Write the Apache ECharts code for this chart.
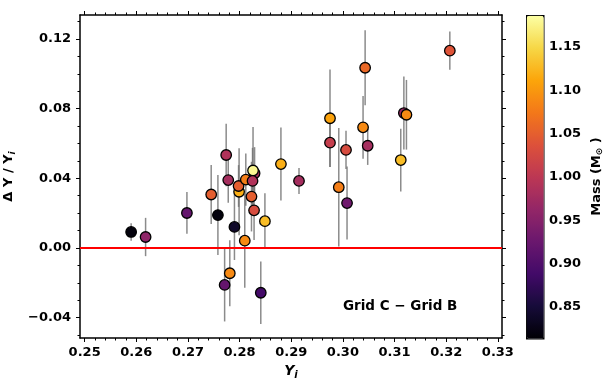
<!DOCTYPE html>
<html>
<head>
<meta charset="utf-8">
<script src="https://cdn.jsdelivr.net/npm/echarts@6/dist/echarts.min.js"></script>
<style>
  html, body { margin: 0; padding: 0; background: #fff; }
  #chart { width: 613px; height: 385px; }
</style>
</head>
<body>
<div id="chart"></div>
<script>
// Y_i, delta Y / Y_i, its error, and mass (colour)
var yi = [0.2590, 0.2618, 0.2698, 0.2745, 0.2758, 0.2774, 0.2778, 0.2771, 0.2781, 0.2790,
          0.2799, 0.2798, 0.2812, 0.2810, 0.2829, 0.2826, 0.2825, 0.2823, 0.2828, 0.2849,
          0.2841, 0.2880, 0.2915, 0.2975, 0.2975, 0.2992, 0.3006, 0.3008, 0.3043, 0.3039,
          0.3048, 0.3112, 0.3118, 0.3123, 0.3207];
var dY = [0.0092, 0.0063, 0.0201, 0.0307, 0.0189, 0.0534, 0.0390, -0.0212, -0.0145, 0.0121,
          0.0323, 0.0356, 0.0393, 0.0042, 0.0429, 0.0445, 0.0385, 0.0295, 0.0216, 0.0154,
          -0.0257, 0.0482, 0.0385, 0.0745, 0.0605, 0.0349, 0.0563, 0.0258, 0.1035, 0.0693,
          0.0587, 0.0505, 0.0775, 0.0765, 0.1133];
var dYerr = [0.005, 0.011, 0.012, 0.017, 0.023, 0.018, 0.013, 0.021, 0.019, 0.019,
             0.025, 0.012, 0.015, 0.027, 0.015, 0.025, 0.019, 0.020, 0.017, 0.016,
             0.018, 0.021, 0.0075, 0.028, 0.014, 0.034, 0.011, 0.021, 0.0215, 0.018,
             0.011, 0.018, 0.021, 0.020, 0.011];
var mass = [0.82, 0.96, 0.92, 1.05, 0.82, 0.99, 0.98, 0.92, 1.09, 0.84,
            1.12, 1.05, 1.08, 1.09, 0.98, 1.18, 0.99, 1.05, 1.03, 1.13,
            0.89, 1.12, 0.98, 1.11, 1.01, 1.08, 1.03, 0.93, 1.06, 1.09,
            0.98, 1.13, 0.97, 1.09, 1.04];

var xTicks = [0.25, 0.26, 0.27, 0.28, 0.29, 0.30, 0.31, 0.32, 0.33];
var yTicks = [-0.04, 0.00, 0.04, 0.08, 0.12];
var cbTicks = [0.85, 0.90, 0.95, 1.00, 1.05, 1.10, 1.15];

var xMin = 0.2491, xMax = 0.3308;
var yMin = -0.0517, yMax = 0.1338;
var mMin = 0.814, mMax = 1.187;

// minor ticks
var xMinor = [], yMinor = [];
for (var i = 0; i <= 45; i++) { var v = +(0.246 + i * 0.002).toFixed(3); if (v > xMin && v < xMax) xMinor.push(v); }
for (var j = 0; j <= 20; j++) { var w = +(-0.06 + j * 0.01).toFixed(2); if (w > yMin && w < yMax) yMinor.push(w); }

var inferno = ['#000004', '#160b39', '#420a68', '#6a176e', '#932667', '#bc3754',
               '#dd513a', '#f37819', '#fca50a', '#f6d746', '#fcffa4'];

var font = 'DejaVu Sans';
function fmt(d) { return function (v) { return v.toFixed(d).replace('-', '\u2212'); }; }

var points = yi.map(function (x, k) { return [x, dY[k], mass[k]]; });
var bars = yi.map(function (x, k) { return [x, dY[k], dYerr[k]]; });

function axisX(pos, major, labels) {
  return {
    type: 'value', gridIndex: 0, position: pos, min: xMin, max: xMax,
    splitLine: { show: false },
    axisLine: { show: major, onZero: false, lineStyle: { color: '#000', width: 1.5 } },
    axisTick: { show: true, inside: false, length: major ? 4 : 2.5, customValues: major ? xTicks : xMinor,
                lineStyle: { color: '#000', width: 1 } },
    axisLabel: { show: labels, customValues: xTicks, formatter: fmt(2), margin: 8,
                 fontFamily: font, fontWeight: 'bold', fontSize: 13, color: '#000' }
  };
}
function axisY(pos, major, labels) {
  return {
    type: 'value', gridIndex: 0, position: pos, min: yMin, max: yMax,
    splitLine: { show: false },
    axisLine: { show: major, onZero: false, lineStyle: { color: '#000', width: 1.5 } },
    axisTick: { show: true, inside: false, length: major ? 4 : 2.5, customValues: major ? yTicks : yMinor,
                lineStyle: { color: '#000', width: 1 } },
    axisLabel: { show: labels, customValues: yTicks, formatter: fmt(2), margin: 9,
                 fontFamily: font, fontWeight: 'bold', fontSize: 13, color: '#000' }
  };
}

var xAxes = [axisX('bottom', true, true), axisX('bottom', false, false),
             axisX('top', true, false), axisX('top', false, false)];
xAxes[0].name = '{a|Y}{s|i}';
xAxes[0].nameLocation = 'middle';
xAxes[0].nameGap = 24;
xAxes[0].nameTextStyle = { rich: {
  a: { fontFamily: font, fontWeight: 'bold', fontStyle: 'italic', fontSize: 14, color: '#000' },
  s: { fontFamily: font, fontWeight: 'bold', fontStyle: 'italic', fontSize: 10, color: '#000', verticalAlign: 'bottom', padding: [8, 0, 0, 0] }
} };
xAxes.push({ type: 'value', gridIndex: 1, show: false, min: 0, max: 1 });

var yAxes = [axisY('left', true, true), axisY('left', false, false),
             axisY('right', true, false), axisY('right', false, false)];
yAxes[0].name = '{a|\u0394 Y / Y}{s|i}';
yAxes[0].nameLocation = 'middle';
yAxes[0].nameGap = 61;
yAxes[0].nameTextStyle = { rich: {
  a: { fontFamily: font, fontWeight: 'bold', fontSize: 13, color: '#000' },
  s: { fontFamily: font, fontWeight: 'bold', fontStyle: 'italic', fontSize: 9, color: '#000', padding: [8, 0, 0, 0] }
} };
yAxes.push({
  type: 'value', gridIndex: 1, position: 'right', min: mMin, max: mMax,
  splitLine: { show: false },
  axisLine: { show: false },
  axisTick: { show: true, inside: false, length: 3, customValues: cbTicks, lineStyle: { color: '#000' } },
  axisLabel: { customValues: cbTicks, formatter: fmt(2), margin: 6,
               fontFamily: font, fontWeight: 'bold', fontSize: 13, color: '#000' },
  name: '{a|Mass (M}{s|\u2299}{a| )}',
  nameLocation: 'middle', nameGap: 46, nameRotate: 90,
  nameTextStyle: { rich: {
    a: { fontFamily: font, fontWeight: 'bold', fontSize: 13, color: '#000' },
    s: { fontFamily: font, fontWeight: 'bold', fontSize: 9, color: '#000', padding: [6, 0, 0, 0] }
  } }
});

var chart = echarts.init(document.getElementById('chart'), null, { renderer: 'canvas' });
chart.setOption({
  backgroundColor: '#fff',
  animation: false,
  grid: [
    { left: 80, top: 15, right: 111, bottom: 47, outerBoundsMode: 'none', containLabel: false },
    { left: 526, top: 15, width: 17, height: 323, outerBoundsMode: 'none', containLabel: false }
  ],
  xAxis: xAxes,
  yAxis: yAxes,
  visualMap: {
    type: 'continuous', seriesIndex: 1, dimension: 2,
    min: mMin, max: mMax, calculable: false, realtime: false,
    left: 526, top: 15, itemWidth: 17, itemHeight: 323, padding: 0,
    borderColor: '#000', borderWidth: 1.5, text: null, showLabel: false,
    inRange: { color: inferno }
  },
  graphic: [{
    type: 'text', left: 343, top: 299,
    style: { text: 'Grid C \u2212 Grid B', fontFamily: font, fontWeight: 'bold', fontSize: 13.5, fill: '#000' }
  }],
  series: [
    {
      type: 'custom', xAxisIndex: 0, yAxisIndex: 0, data: bars, z: 1,
      encode: { x: 0, y: 1 },
      renderItem: function (params, api) {
        var x = api.value(0), y = api.value(1), e = api.value(2);
        var p1 = api.coord([x, y - e]), p2 = api.coord([x, y + e]);
        return { type: 'line', shape: { x1: p1[0], y1: p1[1], x2: p2[0], y2: p2[1] },
                 style: { stroke: 'rgba(110,110,110,0.8)', lineWidth: 1.5 } };
      }
    },
    {
      type: 'scatter', xAxisIndex: 0, yAxisIndex: 0, data: points, z: 3,
      symbol: 'circle', symbolSize: 10.5,
      itemStyle: { borderColor: '#000', borderWidth: 1.3, opacity: 1 },
      markLine: {
        silent: true, symbol: ['none', 'none'], label: { show: false },
        lineStyle: { color: '#ff0000', width: 2, type: 'solid' },
        data: [{ yAxis: 0 }]
      }
    }
  ]
});
</script>
</body>
</html>
